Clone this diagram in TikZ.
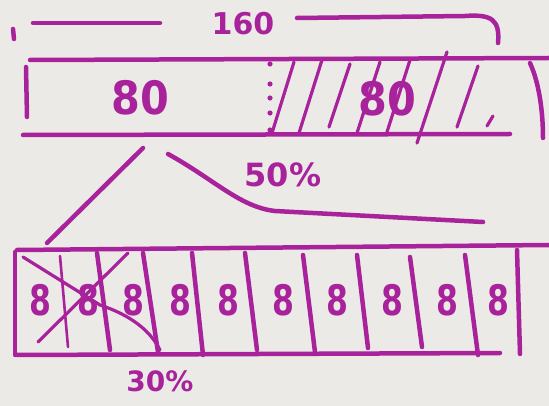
\documentclass[tikz,border=0pt]{standalone}
\usepackage{fontspec}
\setmainfont{DejaVu Sans}
\definecolor{ink}{HTML}{A8239B}
\definecolor{paper}{HTML}{ECEAE6}
\begin{document}
\begin{tikzpicture}[x=1pt,y=-1pt,
  pen/.style={draw=ink, line width=4.5pt, line cap=round, line join=round},
  thinpen/.style={draw=ink, line width=3.2pt, line cap=round, line join=round},
  lbl/.style={text=ink, inner sep=0pt, font=\fontsize{#1}{#1}\selectfont\bfseries},
  lbl/.default=40,
  cell/.style={lbl=42, xscale=0.75}]
\fill[paper] (0,0) rectangle (549,406);
\useasboundingbox (0,0) rectangle (549,406);

% top dimension bracket
\draw[pen] (13,29) -- (14,39);
\draw[pen] (33,23) -- (160,23);
\node[lbl=30] (total) at (243,24) {160};
\draw[pen] (297,18) -- (465,16) .. controls (492,14) and (500,20) .. (498,43);

% top bar
\draw[pen] (30,60) -- (549,58);
\draw[pen] (26,67) -- (27,117);
\draw[pen] (23,135) -- (510,134);
\draw[pen] (530,63) .. controls (540,85) and (543,115) .. (543,138);
\foreach \y in {64,84,98,113,130} \fill[ink] (270,\y) circle (2.6);
\foreach \xa/\xb/\ya/\yb in {272/294/133/62, 299/322/133/60, 329/350/127/64, 357/380/133/62, 387/410/132/60, 417/447/143/52, 457/478/127/66, 487/493/126/116}
  \draw[thinpen] (\xa,\ya) -- (\xb,\yb);
\node[lbl=46, xscale=0.9] (left80) at (140,98) {80};
\node[lbl=46, xscale=0.9] (right80) at (387,99) {80};

% connectors from the top bar to the bottom bar
\coordinate (ca) at (143,148);
\coordinate (cb) at (47,243);
\coordinate (cc) at (168,154);
\coordinate (cd) at (483,222);
\draw[pen] (ca) -- (cb);
\draw[pen] (cc) .. controls (215,180) and (240,207) .. (275,211) -- (cd);
\node[lbl=32] (half) at (283,175) {50\%};

% bottom bar
\draw[pen] (17,250) -- (549,245);
\draw[pen] (15,252) -- (15,355);
\draw[pen] (17,355) -- (500,353);
\draw[thinpen, line width=2.6pt] (60,256) -- (68,347);
\foreach \xa/\ya/\xb/\yb in {97/253/110/350, 143/253/158/352, 192/253/203/355, 245/253/257/350, 303/255/315/352, 357/255/368/348, 410/257/422/347, 465/255/478/355, 517/250/520/354}
  \draw[pen] (\xa,\ya) -- (\xb,\yb);
\foreach \x [count=\i] in {40,88,133,180,228,283,337,392,447,498}
  \node[cell] (c\i) at (\x,300) {8};
% crossing out
\draw[thinpen] (23,257) -- (100,305) .. controls (130,315) and (150,330) .. (160,350);
\draw[thinpen] (128,253) -- (38,342);
\node[lbl=28] (third) at (160,381) {30\%};
\end{tikzpicture}
\end{document}
